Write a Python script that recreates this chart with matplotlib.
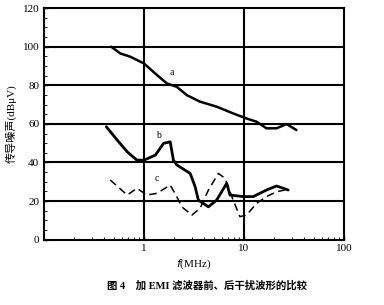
import matplotlib
matplotlib.use("Agg")
import matplotlib.pyplot as plt
import numpy as np

plt.rcParams['font.family'] = ['Liberation Serif', 'Noto Sans CJK SC', 'DejaVu Sans']

# curve a (before filter)
fa = [0.47, 0.58, 0.73, 1.0, 1.35, 1.69, 2.13, 2.68, 3.64, 5.34, 7.8, 10.6, 13.4, 16.8, 21.2, 26.7, 33.5]
ya = [100, 96.5, 94.8, 91.3, 85.3, 81, 79.2, 74.9, 71.5, 68.9, 65.4, 62.8, 61.1, 57.7, 57.7, 59.9, 56.8]

# curve b
fb = [0.42, 0.54, 0.68, 0.85, 1.0, 1.30, 1.57, 1.83, 1.97, 2.13, 2.9, 3.25, 3.5, 4.41, 5.34, 6.72,
      7.25, 9.84, 12.4, 16.8, 21.2, 27.7]
yb = [58.5, 51.6, 45.5, 41.2, 41.2, 43.8, 49.9, 50.7, 41.2, 38.7, 34.3, 27.4, 20.5, 17, 20.5, 29.2,
      23.1, 22.3, 22.3, 25.7, 27.8, 25.7]

# curve c (dashed)
fc = [0.46, 0.68, 0.85, 1.07, 1.35, 1.83, 2.13, 2.39, 3.01, 3.64, 4.41, 5.55, 6.47, 7.8, 9.12,
      10.6, 13.4, 16.8, 21.2, 25.6]
yc = [30.9, 23.1, 26.6, 23.1, 24, 28.3, 22.2, 17, 12.7, 16.2, 25.7, 34.3, 31.8, 20.5, 11.9,
      12.7, 18.8, 22.3, 24.8, 25.7]

fig = plt.figure(figsize=(3.84, 3.05), dpi=100)
ax = fig.add_axes([0.1146, 0.2144, 0.781, 0.759])

for g in [20, 40, 60, 80, 100]:
    ax.axhline(g, color='black', lw=1.5, zorder=1)
for g in [1, 10]:
    ax.axvline(g, color='black', lw=1.5, zorder=1)

ax.plot(fa, ya, color='black', lw=1.8, zorder=3, solid_joinstyle='round', solid_capstyle='round')
ax.plot(fb, yb, color='black', lw=2.0, zorder=3, solid_joinstyle='round', solid_capstyle='round')
ax.plot(fc, yc, color='black', lw=1.1, ls=(0, (5, 3)), zorder=3)

ax.text(1.9, 86.5, 'a', fontsize=7, ha='center', va='center')
ax.text(1.4, 54.2, 'b', fontsize=7, ha='center', va='center')
ax.text(1.35, 31.8, 'c', fontsize=7, ha='center', va='center')

ax.set_xscale('log')
ax.set_xlim(0.1, 100)
ax.set_ylim(0, 120)
ax.set_xticks([1, 10, 100])
ax.set_xticklabels(['1', '10', '100'])
ax.set_yticks([0, 20, 40, 60, 80, 100, 120])
ax.set_yticks(np.arange(0, 121, 5), minor=True)
ax.tick_params(direction='in', labelsize=8, length=3, width=1)
ax.tick_params(which='minor', direction='in', length=2)
for s in ax.spines.values():
    s.set_linewidth(1.5)

ax.set_xlabel(r'$f$(MHz)', fontsize=8, labelpad=3)
ax.set_ylabel('传导噪声(dBμV)', fontsize=8, labelpad=4)

fig.text(0.54, 0.063, '图 4    加 EMI 滤波器前、后干扰波形的比较', fontsize=7.5,
         ha='center', va='center', fontweight='bold')

fig.savefig('out.png', dpi=100)
